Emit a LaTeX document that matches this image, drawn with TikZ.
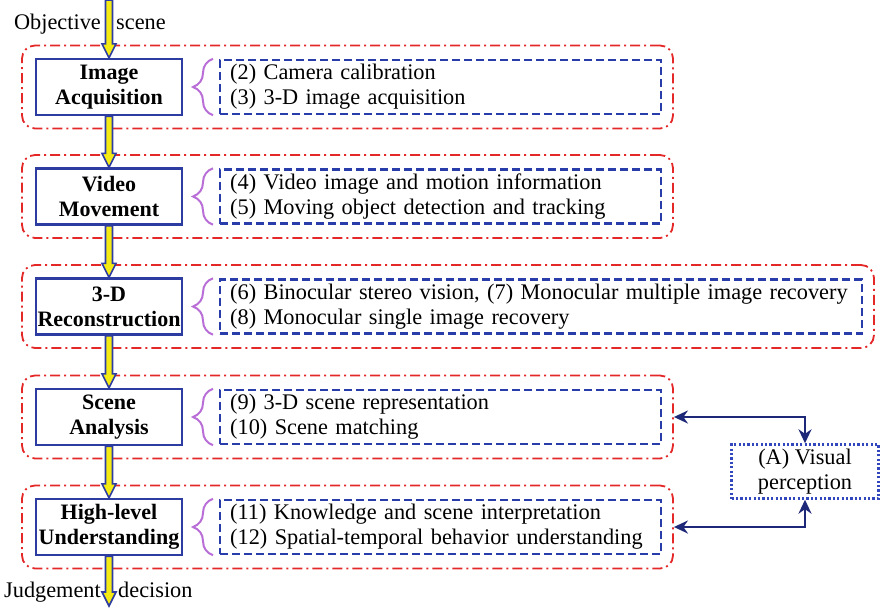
\documentclass[tikz,border=0pt]{standalone}
\usepackage{fontspec}
\setmainfont{Liberation Serif}
\usetikzlibrary{calc,arrows.meta,decorations.pathreplacing}
\definecolor{rd}{RGB}{228,40,40}
\definecolor{bl}{RGB}{45,60,160}
\definecolor{dbl}{RGB}{40,60,170}
\definecolor{pu}{RGB}{185,110,215}
\definecolor{yl}{RGB}{245,235,20}
\definecolor{nv}{RGB}{30,40,120}
\definecolor{dot}{RGB}{50,70,190}
\newcommand{\fatarrow}[2]{\draw[fatarr] let \p1=(#1), \p2=(#2) in
  (\x1-3.5pt,\y1) -- (\x1-3.5pt,\y2+14pt) -- (\x1-7pt,\y2+14pt) -- (\x1,\y2)
  -- (\x1+7pt,\y2+14pt) -- (\x1+3.5pt,\y2+14pt) -- (\x1+3.5pt,\y1) -- cycle;}
\begin{document}
\begin{tikzpicture}[x=1pt,y=-1pt,
  txt/.style={font=\fontsize{22.3}{25}\selectfont},
  redbox/.style={draw=rd, line width=1.8pt, dash pattern=on 10pt off 4pt on 2pt off 4pt,
    rounded corners=13pt, minimum height=83pt, inner sep=0pt},
  stagebox/.style={draw=bl, line width=2.4pt, fill=white, minimum width=146pt,
    minimum height=56pt, align=center, inner sep=0pt,
    font=\fontsize{22}{25}\selectfont\bfseries},
  detailbox/.style={draw=dbl, line width=2.4pt, dash pattern=on 8pt off 4pt,
    minimum height=54pt, align=left, inner xsep=10pt, inner ysep=0pt, anchor=west, txt},
  bracestyle/.style={draw=pu, line width=2pt, decorate,
    decoration={brace, amplitude=20pt}},
  fatarr/.style={draw=bl, line width=1.6pt, fill=yl, line join=miter},
  conn/.style={draw=nv, line width=2.6pt, {Stealth[length=14pt,width=13pt]}-{Stealth[length=14pt,width=13pt]}},
  lbl/.style={txt, inner sep=0pt},
  vpbox/.style={draw=dot, line width=2.4pt, dash pattern=on 2.2pt off 2.2pt,
    minimum width=147pt, minimum height=54pt, align=center, txt, inner sep=0pt}
]
\useasboundingbox (0,0) rectangle (880,608);

% red grouping boxes
\node[redbox, minimum width=651pt] (r1) at (347.5,87) {};
\node[redbox, minimum width=651pt] (r2) at (347.5,196.5) {};
\node[redbox, minimum width=852pt] (r3) at (448,306.5) {};
\node[redbox, minimum width=651pt] (r4) at (347.5,417) {};
\node[redbox, minimum width=651pt] (r5) at (347.5,527) {};

% stage boxes
\node[stagebox] (b1) at (109,87) {Image\\Acquisition};
\node[stagebox] (b2) at (109,196.5) {Video\\Movement};
\node[stagebox] (b3) at (109,306.5) {3-D\\Reconstruction};
\node[stagebox] (b4) at (109,417) {Scene\\Analysis};
\node[stagebox] (b5) at (109,527) {High-level\\Understanding};

% detail boxes
\node[detailbox, text width=421pt] (d1) at (219,87) {(2) Camera calibration\\(3) 3-D image acquisition};
\node[detailbox, text width=421pt] (d2) at (219,196.5) {(4) Video image and motion information\\(5) Moving object detection and tracking};
\node[detailbox, text width=622pt] (d3) at (219,306.5) {(6) Binocular stereo vision, (7) Monocular multiple image recovery\\(8) Monocular single image recovery};
\node[detailbox, text width=421pt] (d4) at (219,417) {(9) 3-D scene representation\\(10) Scene matching};
\node[detailbox, text width=421pt] (d5) at (219,527) {(11) Knowledge and scene interpretation\\(12) Spatial-temporal behavior understanding};

% braces
\foreach \i in {1,...,5}{
  \draw[bracestyle] ([xshift=-6pt]d\i.south west) -- ([xshift=-6pt]d\i.north west);
}

% visual perception
\node[vpbox] (vp) at (805,471.5) {(A) Visual\\perception};
\draw[conn] (r4.east) -| (vp.north);
\draw[conn] (r5.east) -| (vp.south);

% input / output labels
\coordinate (top) at (109,0);
\coordinate (bot) at (109,606);
\node[lbl, anchor=base east] (obj) at (101,29) {Objective};
\node[lbl, anchor=base west] (scn) at (116,29) {scene};
\node[lbl, anchor=base east] (jud) at (101,597) {Judgement};
\node[lbl, anchor=base west] (dec) at (118,597) {decision};

% fat arrows
\fatarrow{top}{b1.north}
\fatarrow{b1.south}{b2.north}
\fatarrow{b2.south}{b3.north}
\fatarrow{b3.south}{b4.north}
\fatarrow{b4.south}{b5.north}
\fatarrow{b5.south}{bot}
\end{tikzpicture}
\end{document}
